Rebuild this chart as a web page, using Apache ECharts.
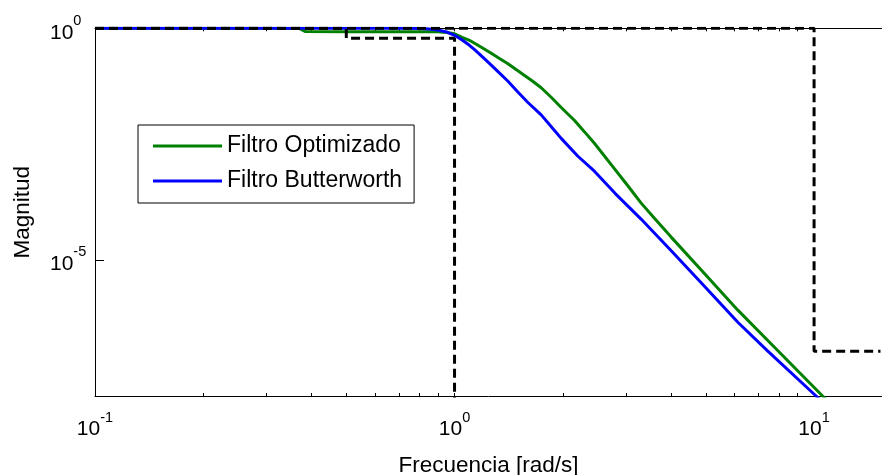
<!DOCTYPE html>
<html><head><meta charset="utf-8">
<script src="https://cdn.jsdelivr.net/npm/echarts@6/dist/echarts.min.js"></script>
<style>html,body{margin:0;padding:0;background:#fff}#c{width:882px;height:475px}</style>
</head><body><div id="c"></div>
<script>
// ---- data (frequency in rad/s, magnitude linear) ----
const freqOptimizado = [0.1, 0.2, 0.3, 0.37, 0.385, 0.5, 0.6, 0.7, 0.8, 0.9, 0.95, 1.0, 1.05, 1.1, 1.137, 1.2, 1.265, 1.33, 1.408, 1.48, 1.566, 1.65, 1.742, 1.86, 1.98, 2.157, 2.3, 2.449, 2.7, 3.034, 3.3, 3.597, 4.004, 4.955, 6.137, 7.759, 10.56, 11.0];
const magOptimizado  = [1.0, 1.0, 0.998, 0.99, 0.85, 0.84, 0.84, 0.84, 0.845, 0.84, 0.81, 0.76, 0.64, 0.55, 0.474, 0.37, 0.288, 0.225, 0.172, 0.13, 0.096, 0.072, 0.052, 0.032, 0.0195, 0.0102, 0.0058, 0.0033, 0.00126, 3.98e-4, 1.7e-4, 7.9e-5, 3.1e-5, 5.1e-6, 8.2e-7, 1.3e-7, 1.15e-8, 8.3e-9];
const freqButterworth = [0.1, 0.5, 0.7, 0.8, 0.85, 0.9, 0.95, 1.0, 1.05, 1.1, 1.137, 1.2, 1.265, 1.33, 1.408, 1.5, 1.6, 1.742, 1.897, 1.98, 2.2, 2.449, 2.8, 3.302, 4.0, 4.955, 6.137, 7.435, 10.13, 10.6];
const magButterworth  = [1.0, 1.0, 0.9985, 0.986, 0.965, 0.918, 0.833, 0.707, 0.56, 0.43, 0.345, 0.235, 0.16, 0.11, 0.072, 0.042, 0.025, 0.0135, 0.0062, 0.0042, 0.00175, 8.2e-4, 2.7e-4, 7.6e-5, 1.6e-5, 2.7e-6, 4.5e-7, 1.07e-7, 1.15e-8, 8e-9];
const freqSpecUpper = [0.1, 10, 10, 15.3];
const magSpecUpper  = [1, 1, 1.07e-7, 1.07e-7];
const freqSpecLower = [0.1, 0.5, 0.5, 1, 1];
const magSpecLower  = [1, 1, 0.61, 0.61, 1e-9];
const xTickLabels = [0.1, 1, 10];
const xTickMarks = [0.1,0.2,0.3,0.4,0.5,0.6,0.7,0.8,0.9,1,2,3,4,5,6,7,8,9,10];
const yTickLabels = [1e-5, 1];
const xRange = [0.1, 15.45];
const yRange = [1.15e-8, 1];
const seriesNames = ['Filtro Optimizado', 'Filtro Butterworth'];
const xName = 'Frecuencia [rad/s]';
const yName = 'Magnitud';

const F = '"Liberation Sans", Arial, Helvetica, sans-serif';
const L = Math.log10;
const pts = (xs, ys) => xs.map((x, i) => [L(x), L(ys[i])]);

const rich = {
  b: {fontSize: 21, fontFamily: F, color: '#000', lineHeight: 22, verticalAlign: 'bottom'},
  s: {fontSize: 14.5, fontFamily: F, color: '#000', lineHeight: 30, verticalAlign: 'top', padding: [0, 0, 16, 0]}
};
const fmt = v => '{b|10}{s|' + Math.round(v) + '}';

const chart = echarts.init(document.getElementById('c'), null, {renderer: 'canvas'});
chart.setOption({
  animation: false,
  backgroundColor: '#fff',
  grid: {left: 95, top: 28.3, width: 787, height: 367.7, containLabel: false, outerBoundsMode: 'none', show: false},
  legend: {
    orient: 'vertical', left: 138, top: 125, padding: [9.5, 12, 10.5, 15], itemGap: 12,
    itemWidth: 69, itemHeight: 3, icon: 'rect', selectedMode: false,
    backgroundColor: '#fff', borderColor: '#000', borderWidth: 1, borderRadius: 0,
    textStyle: {fontSize: 23, fontFamily: F, color: '#000'},
    data: seriesNames
  },
  xAxis: [{
    type: 'value', position: 'bottom', min: L(xRange[0]), max: L(xRange[1]),
    name: xName, nameLocation: 'middle', nameGap: 58,
    nameTextStyle: {fontSize: 22.5, fontFamily: F, color: '#000'},
    axisLine: {show: true, onZero: false, lineStyle: {color: '#000', width: 1}},
    axisTick: {show: true, inside: true, length: 3, lineStyle: {color: '#000'}, customValues: xTickMarks.map(L)},
    axisLabel: {show: true, margin: 14, formatter: fmt, rich: rich, customValues: xTickLabels.map(L)},
    splitLine: {show: false}
  }, {
    type: 'value', position: 'top', min: L(xRange[0]), max: L(xRange[1]),
    axisLine: {show: true, onZero: false, lineStyle: {color: '#000', width: 1}},
    axisTick: {show: true, inside: true, length: 3, lineStyle: {color: '#000'}, customValues: xTickMarks.map(L)},
    axisLabel: {show: false},
    splitLine: {show: false}
  }],
  yAxis: [{
    type: 'value', position: 'left', min: L(yRange[0]), max: L(yRange[1]),
    name: yName, nameLocation: 'middle', nameGap: 61, nameRotate: 90,
    nameTextStyle: {fontSize: 22.5, fontFamily: F, color: '#000'},
    axisLine: {show: true, onZero: false, lineStyle: {color: '#000', width: 1}},
    axisTick: {show: true, inside: true, length: 9, lineStyle: {color: '#000'}, customValues: yTickLabels.map(L)},
    axisLabel: {show: true, align: 'left', margin: 45, formatter: fmt, rich: rich, customValues: yTickLabels.map(L)},
    splitLine: {show: false}
  }],
  series: [{
    name: seriesNames[0], type: 'line', data: pts(freqOptimizado, magOptimizado),
    symbol: 'none', showSymbol: false, z: 2, clip: true,
    lineStyle: {color: '#008000', width: 3}, itemStyle: {color: '#008000'}
  }, {
    name: seriesNames[1], type: 'line', data: pts(freqButterworth, magButterworth),
    symbol: 'none', showSymbol: false, z: 3, clip: true,
    lineStyle: {color: '#0000ff', width: 3}, itemStyle: {color: '#0000ff'}
  }, {
    name: 'specUpper', type: 'line', data: pts(freqSpecUpper, magSpecUpper),
    symbol: 'none', showSymbol: false, z: 4, clip: true,
    lineStyle: {color: '#000', width: 3, type: [9, 5]}
  }, {
    name: 'specLower', type: 'line', data: pts(freqSpecLower, magSpecLower),
    symbol: 'none', showSymbol: false, z: 4, clip: true,
    lineStyle: {color: '#000', width: 3, type: [9, 5]}
  }]
});
</script></body></html>
